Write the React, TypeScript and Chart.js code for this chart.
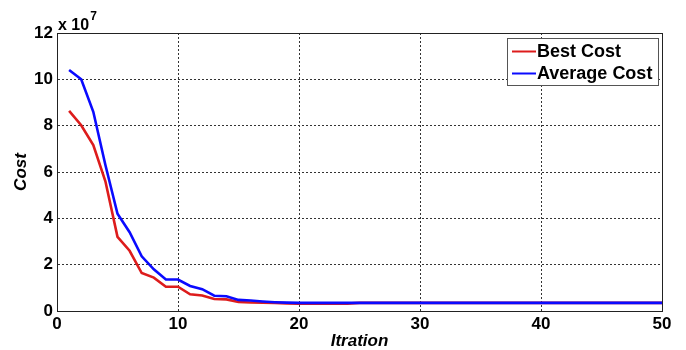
import React, { useEffect, useRef } from "react";
import { Chart, registerables } from "chart.js";

Chart.register(...registerables);

const EXPONENT = 7;
const iterations = [
  1, 2, 3, 4, 5, 6, 7, 8, 9, 10, 11, 12, 13, 14, 15, 16, 17, 18, 19, 20, 21, 22, 23, 24, 25,
  26, 27, 28, 29, 30, 31, 32, 33, 34, 35, 36, 37, 38, 39, 40, 41, 42, 43, 44, 45, 46, 47, 48, 49, 50,
];
// values in units of 10^7
const bestCost = [
  8.64, 8.02, 7.16, 5.6, 3.2, 2.6, 1.64, 1.44, 1.05, 1.05, 0.72, 0.67, 0.52, 0.5, 0.39, 0.37, 0.36, 0.35, 0.33, 0.32,
  0.32, 0.32, 0.32, 0.32, 0.35, 0.35, 0.35, 0.35, 0.35, 0.35, 0.35, 0.35, 0.35, 0.35, 0.35, 0.35, 0.35, 0.35, 0.35, 0.35,
  0.35, 0.35, 0.35, 0.35, 0.35, 0.35, 0.35, 0.35, 0.35, 0.35,
];
const averageCost = [
  10.4, 10.0, 8.6, 6.3, 4.2, 3.4, 2.36, 1.8, 1.36, 1.36, 1.08, 0.94, 0.66, 0.64, 0.48, 0.45, 0.41, 0.38, 0.36, 0.35,
  0.35, 0.35, 0.35, 0.35, 0.35, 0.35, 0.35, 0.35, 0.35, 0.35, 0.35, 0.35, 0.35, 0.35, 0.35, 0.35, 0.35, 0.35, 0.35, 0.35,
  0.35, 0.35, 0.35, 0.35, 0.35, 0.35, 0.35, 0.35, 0.35, 0.35,
];
const seriesNames = ["Best Cost", "Average Cost"];
const seriesColors = ["#dd1c1c", "#0a0aff"];
const xTickValues = [0, 10, 20, 30, 40, 50];
const yTickValues = [0, 2, 4, 6, 8, 10, 12];
const xTitle = "Itration";
const yTitle = "Cost";

const FONT = "Arial, 'Liberation Sans', sans-serif";

const boxPlugin = {
  id: "matlabBox",
  afterDraw(chart: any) {
    const { ctx, chartArea } = chart;
    const { left, top, right, bottom } = chartArea;
    ctx.save();
    ctx.strokeStyle = "#222";
    ctx.lineWidth = 1;
    ctx.setLineDash([]);
    ctx.strokeRect(Math.round(left) + 0.5, Math.round(top) + 0.5, Math.round(right - left), Math.round(bottom - top));

    // exponent label
    ctx.fillStyle = "#000";
    ctx.textBaseline = "alphabetic";
    ctx.textAlign = "left";
    ctx.font = `bold 16px ${FONT}`;
    ctx.fillText("x 10", left + 1, top - 3);
    const w = ctx.measureText("x 10").width;
    ctx.font = `bold 12px ${FONT}`;
    ctx.fillText(String(EXPONENT), left + 2 + w, top - 13);

    // legend
    const lx = 507.5, ly = 38.5, lw = 151, lh = 47;
    ctx.fillStyle = "#fff";
    ctx.fillRect(lx, ly, lw, lh);
    ctx.strokeStyle = "#555";
    ctx.strokeRect(lx, ly, lw, lh);
    ctx.font = `bold 18px ${FONT}`;
    ctx.textBaseline = "middle";
    const rows = [51.5, 73.5];
    chart.data.datasets.forEach((ds: any, i: number) => {
      const y = rows[i];
      ctx.strokeStyle = ds.borderColor;
      ctx.lineWidth = 2;
      ctx.beginPath();
      ctx.moveTo(512, y);
      ctx.lineTo(536, y);
      ctx.stroke();
      ctx.fillStyle = "#000";
      ctx.fillText(ds.label, 537, y + 1);
    });
    ctx.restore();
  },
};

export default function App() {
  const ref = useRef<HTMLCanvasElement | null>(null);
  useEffect(() => {
    if (!ref.current) return;
    const scale = Math.pow(10, EXPONENT);
    const chart = new Chart(ref.current, {
      type: "line",
      data: {
        datasets: [bestCost, averageCost].map((arr, i) => ({
          label: seriesNames[i],
          data: arr.map((v, j) => ({ x: iterations[j], y: v * scale })),
          borderColor: seriesColors[i],
          backgroundColor: seriesColors[i],
          borderWidth: 2.6,
          pointRadius: 0,
          tension: 0,
          fill: false,
          order: i === 0 ? 1 : 0,
        })),
      },
      options: {
        animation: false,
        responsive: false,
        layout: { padding: { left: 0, top: 33, right: 24, bottom: 0 } },
        plugins: { legend: { display: false }, tooltip: { enabled: false } },
        scales: {
          x: {
            type: "linear",
            min: 0,
            max: 50,
            afterFit: (s: any) => {
              s.height = 39;
            },
            afterBuildTicks: (s: any) => {
              s.ticks = xTickValues.map((v) => ({ value: v }));
            },
            ticks: {
              color: "#000",
              padding: 3,
              maxRotation: 0,
              font: { family: FONT, size: 17, weight: "bold" },
              callback: (v: any) => String(v),
            },
            grid: {
              color: "#333",
              lineWidth: 1,
              drawTicks: false,
            },
            border: { display: true, color: "#222", dash: [2, 2] },
            title: {
              display: true,
              text: xTitle,
              color: "#000",
              padding: { top: 0, bottom: 0 },
              font: { family: FONT, size: 17, weight: "bold", style: "italic", lineHeight: 1 },
            },
          },
          y: {
            min: 0,
            max: 12 * scale,
            afterFit: (s: any) => {
              s.width = 57;
            },
            afterBuildTicks: (s: any) => {
              s.ticks = yTickValues.map((v) => ({ value: v * scale }));
            },
            ticks: {
              color: "#000",
              padding: 4,
              font: { family: FONT, size: 17, weight: "bold" },
              callback: (v: any) => String(Math.round(v / scale)),
            },
            grid: {
              color: "#333",
              lineWidth: 1,
              drawTicks: false,
            },
            border: { display: true, color: "#222", dash: [2, 2] },
            title: {
              display: true,
              text: yTitle,
              color: "#000",
              padding: { top: 11, bottom: 0 },
              font: { family: FONT, size: 17, weight: "bold", style: "italic", lineHeight: 1.2 },
            },
          },
        },
      },
      plugins: [boxPlugin],
    });
    return () => chart.destroy();
  }, []);
  return (
    <div style={{ position: "fixed", left: 0, top: 0, width: 686, height: 350, background: "#fff" }}>
      <canvas ref={ref} width={686} height={350} style={{ width: 686, height: 350 }} />
    </div>
  );
}
